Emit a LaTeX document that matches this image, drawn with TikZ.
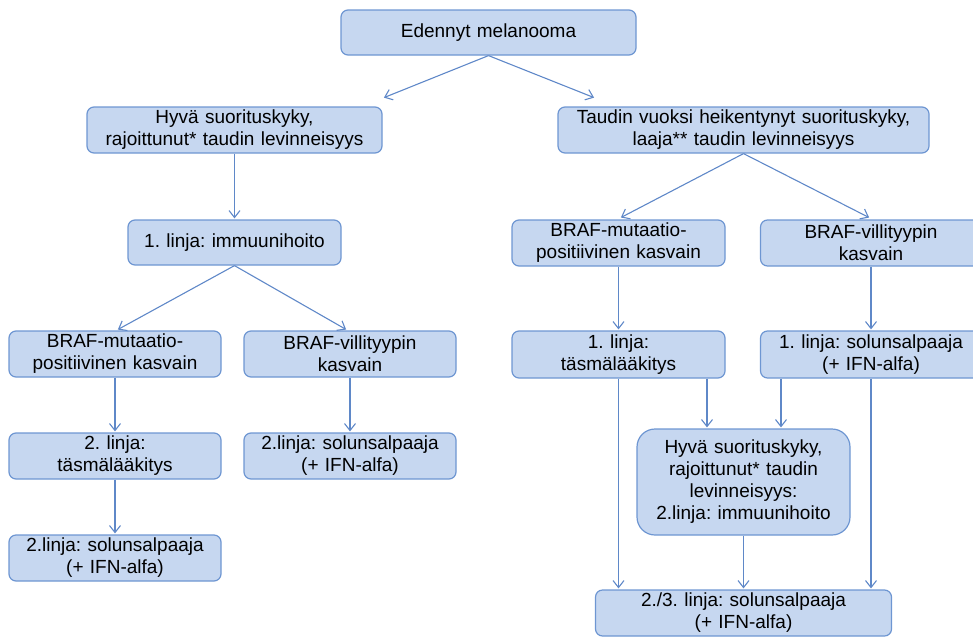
\documentclass[tikz,border=0pt]{standalone}
\usepackage{fontspec}
\setmainfont{Liberation Sans}[WordSpace=1.6]
\frenchspacing
\usetikzlibrary{arrows.meta}
\definecolor{boxfill}{HTML}{C6D7F0}
\definecolor{boxline}{HTML}{6E96D2}
\definecolor{arrline}{HTML}{5F88C8}

\begin{document}
\begin{tikzpicture}[x=1pt,y=-1pt,
		box/.style={draw=boxline,fill=boxfill,line width=1.2pt,rounded corners=7pt,align=center,inner xsep=4pt,inner ysep=0pt,font=\fontsize{19}{22}\selectfont},
		arr/.style={draw=arrline,line width=1.1pt,shorten >=1pt,-{Straight Barb[length=7pt,width=11pt]}}]
		\useasboundingbox (0,0) rectangle (973,637);
		\node[box,text width=287pt,minimum height=45pt] (root) at (488.5,32.5) {Edennyt melanooma};
		\node[box,text width=287pt,minimum height=46pt] (hyva) at (234.5,130) {Hyvä suorituskyky,\\rajoittunut* taudin levinneisyys};
		\node[box,text width=363pt,minimum height=46pt] (taudin) at (743.5,130) {Taudin vuoksi heikentynyt suorituskyky,\\laaja** taudin levinneisyys};
		\node[box,text width=205pt,minimum height=45pt] (imm) at (234.5,242.5) {1. linja: immuunihoito};
		\node[box,text width=204pt,minimum height=46pt] (brafa) at (115,354) {BRAF-mutaatio-\\positiivinen kasvain};
		\node[box,text width=204pt,minimum height=46pt] (brafb) at (350,354) {BRAF-villityypin\\kasvain};
		\node[box,text width=204pt,minimum height=46pt] (tasmaa) at (115,456) {2. linja:\\täsmälääkitys};
		\node[box,text width=204pt,minimum height=46pt] (solub) at (350,456) {2.linja: solunsalpaaja\\(+ IFN-alfa)};
		\node[box,text width=204pt,minimum height=46pt] (solua) at (115,558) {2.linja: solunsalpaaja\\(+ IFN-alfa)};
		\node[box,text width=205pt,minimum height=46pt] (brafc) at (618.5,243) {BRAF-mutaatio-\\positiivinen kasvain};
		\node[box,text width=213pt,minimum height=46pt] (brafd) at (871,243) {BRAF-villityypin\\kasvain};
		\node[box,text width=205pt,minimum height=47pt] (tasmac) at (618.5,354.5) {1. linja:\\täsmälääkitys};
		\node[box,text width=213pt,minimum height=47pt] (solud) at (871,354.5) {1. linja: solunsalpaaja\\(+ IFN-alfa)};
		\node[box,text width=205pt,minimum height=106pt,rounded corners=18pt] (hyvac) at (743.5,482) {Hyvä suorituskyky,\\rajoittunut* taudin\\levinneisyys:\\2.linja: immuunihoito};
		\node[box,text width=288pt,minimum height=46pt] (soluc) at (743.5,613) {2./3. linja: solunsalpaaja\\(+ IFN-alfa)};
		\coordinate (ta) at (383,98);
		\coordinate (tb) at (595,98);
		\coordinate (tc) at (117,330);
		\coordinate (td) at (347,330);
		\coordinate (te) at (620,218);
		\coordinate (tf) at (870,218);
		\coordinate (xa) at (707,0);
		\coordinate (xb) at (781,0);
		\draw[arr] (root.south) -- (ta);
		\draw[arr] (root.south) -- (tb);
		\draw[arr] (hyva) -- (imm);
		\draw[arr] (imm.south) -- (tc);
		\draw[arr] (imm.south) -- (td);
		\draw[arr] (brafa) -- (tasmaa);
		\draw[arr] (tasmaa) -- (solua);
		\draw[arr] (brafb) -- (solub);
		\draw[arr] (taudin.south) -- (te);
		\draw[arr] (taudin.south) -- (tf);
		\draw[arr] (brafc) -- (tasmac);
		\draw[arr] (brafd) -- (solud);
		\draw[arr] (tasmac.south -| xa) -- (hyvac.north -| xa);
		\draw[arr] (solud.south -| xb) -- (hyvac.north -| xb);
		\draw[arr] (tasmac.south) -- (soluc.north -| tasmac);
		\draw[arr] (hyvac) -- (soluc);
		\draw[arr] (solud.south) -- (soluc.north -| solud);
	\end{tikzpicture}
\end{document}
